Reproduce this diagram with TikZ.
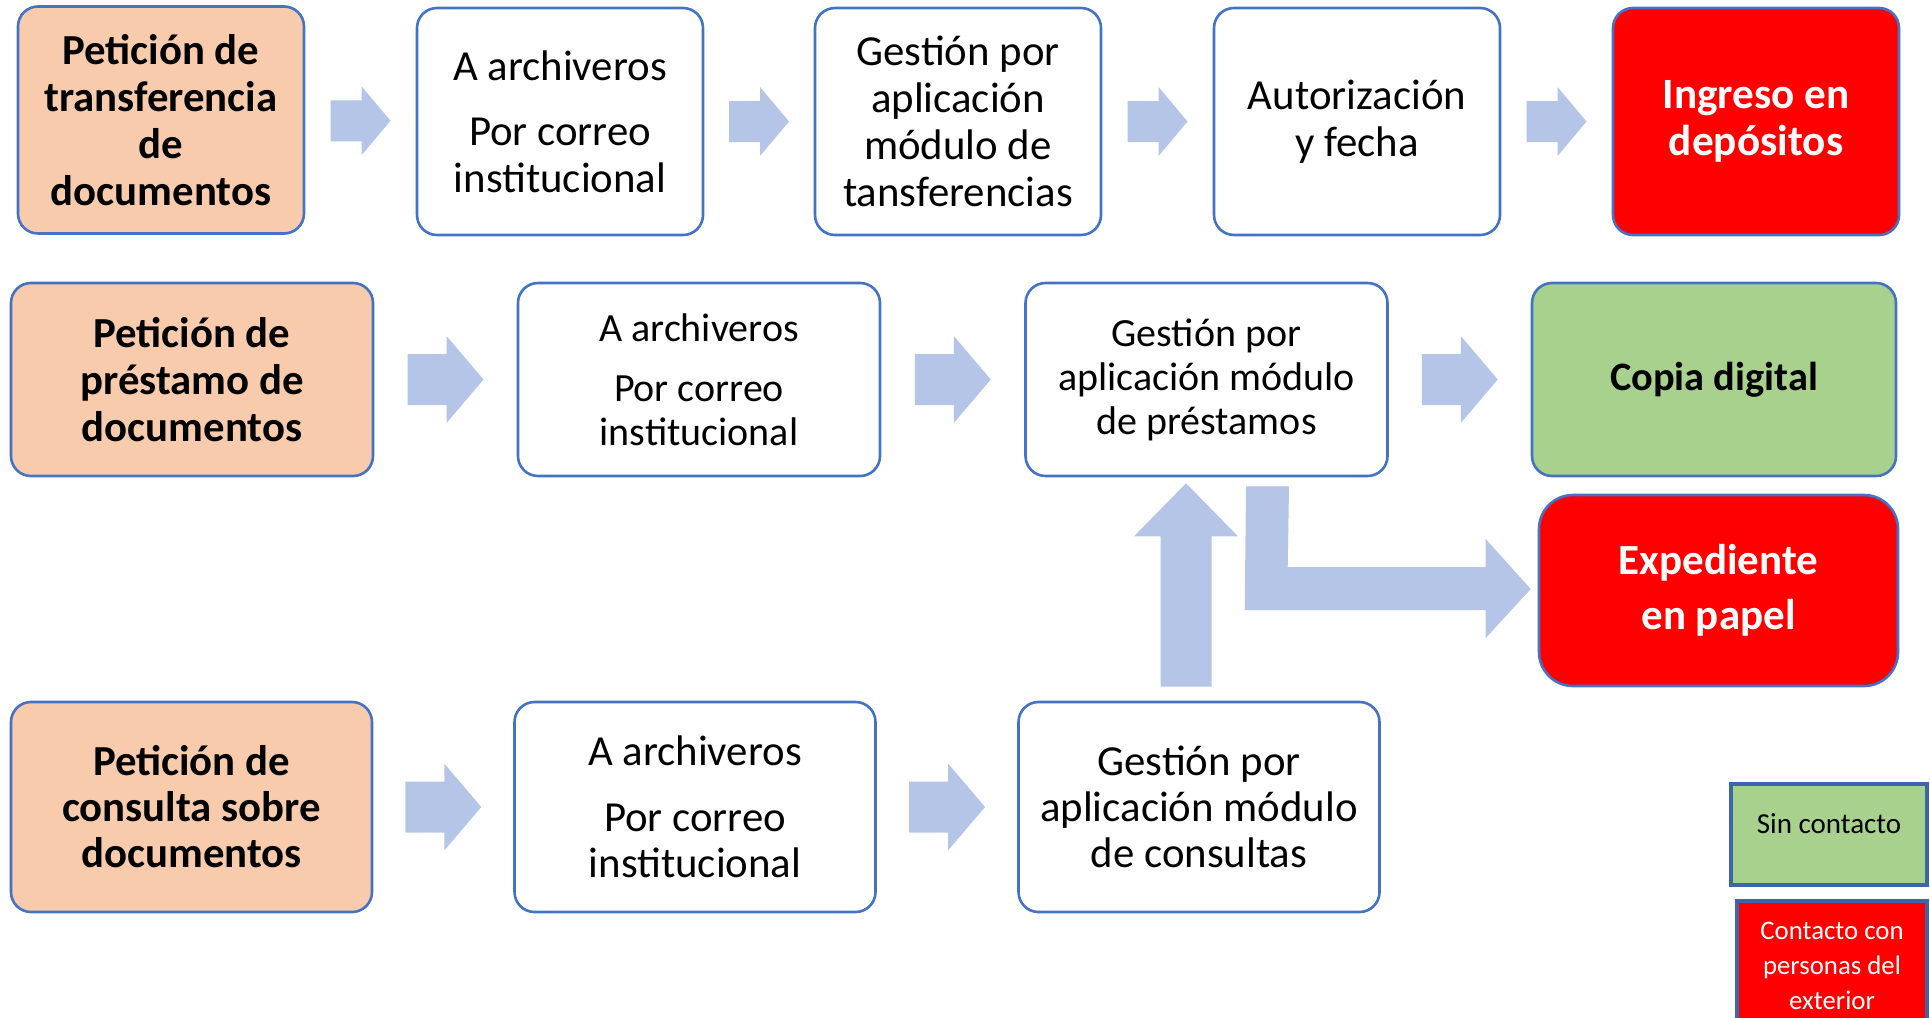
\documentclass[tikz,border=0pt]{standalone}
\usepackage{fontspec}
\setmainfont{Carlito}
\usetikzlibrary{calc}
\definecolor{peach}{HTML}{F8CBAD}
\definecolor{bord}{HTML}{4472C4}
\definecolor{legbord}{HTML}{3D65AA}
\definecolor{arrfill}{HTML}{B4C5E7}
\definecolor{grn}{HTML}{A9D18E}
\definecolor{rd}{HTML}{FF0000}
% right block arrow: #1 centre, #2 length, #3 shaft width, #4 head width, #5 head length
\newcommand{\rarr}[5]{\fill[arrfill, shift={(#1)}] ({-#2/2},{-#3/2}) -- ({#2/2-#5},{-#3/2}) -- ({#2/2-#5},{-#4/2}) -- ({#2/2},0) -- ({#2/2-#5},{#4/2}) -- ({#2/2-#5},{#3/2}) -- ({-#2/2},{#3/2}) -- cycle;}
\tikzset{
  box/.style={draw=bord, line width=1.3pt, rounded corners=10pt, fill=white, align=center, inner sep=0pt,
    font=\fontsize{21.4}{23.5}\selectfont},
  boxs/.style={box, font=\fontsize{20}{22}\selectfont},
  boxt/.style={box, font=\fontsize{21.4}{23}\selectfont},
  req/.style={box, fill=peach, font=\bfseries\fontsize{21.4}{23.5}\selectfont},
  reqt/.style={req, font=\bfseries\fontsize{21.4}{23}\selectfont},
  redbox/.style={box, fill=rd, text=white, font=\bfseries\fontsize{21.6}{23.5}\selectfont},
  grnbox/.style={box, fill=grn, font=\bfseries\fontsize{20.2}{23.5}\selectfont},
  r1/.style={minimum width=143pt, minimum height=113.5pt},
  r2/.style={minimum width=181pt, minimum height=96.5pt},
  r3/.style={minimum width=180.5pt, minimum height=105pt},
  legbox/.style={draw=legbord, line width=1.8pt, inner sep=0pt},
  legtext/.style={align=center, inner sep=0pt, font=\fontsize{14.5}{17.5}\selectfont},
  legtextb/.style={legtext, font=\fontsize{13.4}{14}\selectfont}
}
\begin{document}
\begin{tikzpicture}[x=0.5pt, y=-0.5pt]
\fill[white] (0,0) rectangle (1930,1017);
\useasboundingbox (0,0) rectangle (1930,1017);
% row 1
\node[req, r1] (r1a) at (161,120) {Petición de\\transferencia\\de\\documentos};
\node[box, r1] (r1b) at (560,121.5) {A archiveros\\[9pt]Por correo\\institucional};
\node[box, r1] (r1c) at (958,121.5) {Gestión por\\aplicación\\módulo de\\tansferencias};
\node[box, r1] (r1d) at (1357,121.5) {Autorización\\y fecha};
\node[redbox, r1] (r1e) at (1756,121.5) {Ingreso en\\depósitos};
% row 2
\node[req, r2] (r2a) at (192,379.5) {Petición de\\préstamo de\\documentos};
\node[boxs, r2] (r2b) at (699,379.5) {A archiveros\\[8pt]Por correo\\institucional};
\node[boxs, r2] (r2c) at (1206.5,379.5) {Gestión por\\aplicación módulo\\de préstamos};
\node[grnbox, r2, minimum width=182pt] (r2d) at (1714,379.5) {Copia digital};
% row 3
\node[reqt, r3] (r3a) at (191.5,807) {Petición de\\consulta sobre\\documentos};
\node[boxt, r3] (r3b) at (695,807) {A archiveros\\[10pt]Por correo\\institucional};
\node[boxt, r3] (r3c) at (1199,807) {Gestión por\\aplicación módulo\\de consultas};
% expediente
\node[redbox, rounded corners=17pt, minimum width=179.5pt, minimum height=95.5pt,
  font=\bfseries\fontsize{21.5}{27.5}\selectfont] (exp) at (1718.5,590.5) {Expediente\\en papel};
% legend
\node[legbox, fill=grn, minimum width=98pt, minimum height=50.5pt] (leg1) at (1829,834.5) {};
\node[legtext] (leg1t) at ($(leg1.center)+(0,-11)$) {Sin contacto};
\node[legbox, fill=rd, minimum width=95pt, minimum height=69.5pt] (leg2) at (1832,970.5) {};
\node[legtextb, text=white, font=\fontsize{13.4}{17.5}\selectfont] (leg2t) at (1832,966) {Contacto con\\personas del\\exterior};
% horizontal block arrows
\coordinate (a11) at ($(r1a.east)!0.5!(r1b.west)$);
\coordinate (a12) at ($(r1b.east)!0.5!(r1c.west)$);
\coordinate (a13) at ($(r1c.east)!0.5!(r1d.west)$);
\coordinate (a14) at ($(r1d.east)!0.5!(r1e.west)$);
\rarr{a11}{60}{41}{69}{29}
\rarr{a12}{60}{41}{69}{29}
\rarr{a13}{60}{41}{69}{29}
\rarr{a14}{60}{41}{69}{29}
\coordinate (a21) at ($(r2a.east)!0.5!(r2b.west)$);
\coordinate (a22) at ($(r2b.east)!0.5!(r2c.west)$);
\coordinate (a23) at ($(r2c.east)!0.5!(r2d.west)$);
\rarr{a21}{76}{51}{87}{37}
\rarr{a22}{76}{51}{87}{37}
\rarr{a23}{76}{51}{87}{37}
\coordinate (a31) at ($(r3a.east)!0.5!(r3b.west)$);
\coordinate (a32) at ($(r3b.east)!0.5!(r3c.west)$);
\rarr{a31}{76}{51}{87}{37}
\rarr{a32}{76}{51}{87}{37}
% up arrow from consultas to prestamos
\path (r3c.north) ++(-13,-14) coordinate (ub);
\path (r2c.south) ++(-20.5,6) coordinate (ut);
\fill[arrfill] ($(ub)+(-25.5,0)$) -- ($(ub)+(25.5,0)$) -- ($(ut)+(25.5,53)$) -- ($(ut)+(52,53)$) -- (ut)
  -- ($(ut)+(-52,53)$) -- ($(ut)+(-25.5,53)$) -- cycle;
% L arrow from prestamos to expediente
\path (r2c.south) ++(39.5,9) coordinate (ls);
\path (exp.west) ++(-7,-1.5) coordinate (lt);
\fill[arrfill] (ls) -- ++(43,0) -- ($(lt)+(-243,-22)$) -- ($(lt)+(-45,-22)$) -- ($(lt)+(-45,-50)$) -- (lt)
  -- ($(lt)+(-45,49)$) -- ($(lt)+(-45,21)$) -- ($(lt)+(-286,21)$) -- cycle;
\end{tikzpicture}
\end{document}
